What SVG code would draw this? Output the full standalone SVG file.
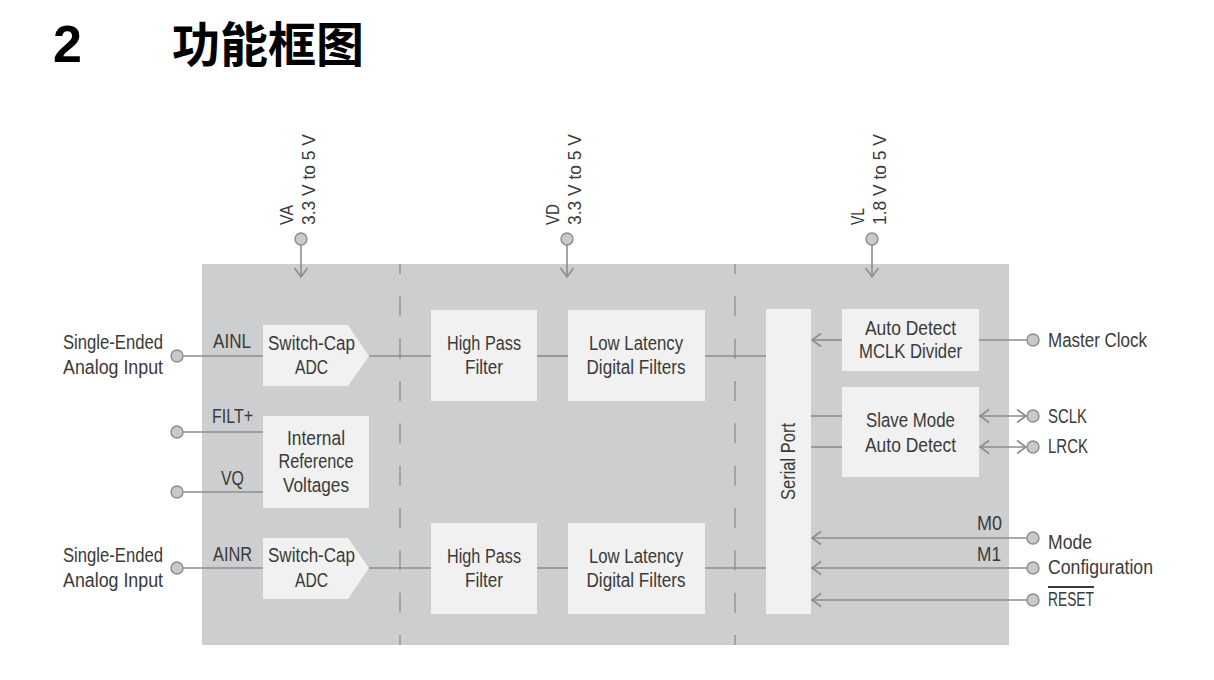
<svg xmlns="http://www.w3.org/2000/svg" width="1214" height="680" viewBox="0 0 1214 680">
<style>
.t{font-family:"Liberation Sans",Arial,sans-serif;font-size:20px;fill:#3a3a3a}
.r{font-size:18.5px}
.m{text-anchor:middle}
.box{fill:#f1f1f1}
.ln{stroke:#8c8c8c;stroke-width:1.6;fill:none}
.pin{fill:#c9c9c9;stroke:#8c8c8c;stroke-width:1.4}
.dash{stroke:#9a9a9a;stroke-width:1.6;stroke-dasharray:20 22.33;stroke-dashoffset:10}
</style>
<defs>
<marker id="ah" markerUnits="userSpaceOnUse" markerWidth="14" markerHeight="16" viewBox="-10 -8 12 16" refX="0" refY="0" orient="auto-start-reverse">
<path d="M-9,-6.5 L0,0 L-9,6.5" fill="none" stroke="#8c8c8c" stroke-width="1.6"/>
</marker>
</defs>
<rect width="1214" height="680" fill="#ffffff"/>
<g id="title">
<text x="53" y="62" style="font-family:'Liberation Sans',Arial,sans-serif;font-size:52px;font-weight:bold;fill:#000">2</text>
<text x="172" y="62" style="font-family:'Noto Sans CJK SC','Noto Sans CJK JP',sans-serif;font-size:48px;font-weight:bold;fill:#000">功能框图</text>
</g>
<g id="chip">
<rect x="202" y="264" width="807" height="381" fill="#cdcecf"/>
<line class="dash" x1="400" y1="264" x2="400" y2="645"/>
<line class="dash" x1="735" y1="264" x2="735" y2="645"/>
</g>
<g id="connectors">
<line class="ln" x1="301" y1="244" x2="301" y2="277" marker-end="url(#ah)"/>
<line class="ln" x1="567" y1="244" x2="567" y2="277" marker-end="url(#ah)"/>
<line class="ln" x1="872" y1="244" x2="872" y2="277" marker-end="url(#ah)"/>
<line class="ln" x1="183" y1="356" x2="263" y2="356"/>
<line class="ln" x1="369" y1="356" x2="431" y2="356"/>
<line class="ln" x1="537" y1="356" x2="568" y2="356"/>
<line class="ln" x1="705" y1="356" x2="766" y2="356"/>
<line class="ln" x1="183" y1="432" x2="263" y2="432"/>
<line class="ln" x1="183" y1="492" x2="263" y2="492"/>
<line class="ln" x1="183" y1="568" x2="263" y2="568"/>
<line class="ln" x1="369" y1="568" x2="431" y2="568"/>
<line class="ln" x1="537" y1="568" x2="568" y2="568"/>
<line class="ln" x1="705" y1="568" x2="766" y2="568"/>
<line class="ln" x1="842" y1="340" x2="812" y2="340" marker-end="url(#ah)"/>
<line class="ln" x1="979" y1="340" x2="1027" y2="340"/>
<line class="ln" x1="811" y1="416" x2="842" y2="416"/>
<line class="ln" x1="811" y1="447" x2="842" y2="447"/>
<line class="ln" x1="980" y1="416" x2="1026" y2="416" marker-start="url(#ah)" marker-end="url(#ah)"/>
<line class="ln" x1="980" y1="447" x2="1026" y2="447" marker-start="url(#ah)" marker-end="url(#ah)"/>
<line class="ln" x1="1027" y1="538" x2="812" y2="538" marker-end="url(#ah)"/>
<line class="ln" x1="1027" y1="568" x2="812" y2="568" marker-end="url(#ah)"/>
<line class="ln" x1="1027" y1="600" x2="812" y2="600" marker-end="url(#ah)"/>
</g>
<g id="pin-va">
<circle class="pin" cx="301" cy="239" r="6"/>
<text class="t r" transform="translate(293,225) rotate(-90)" textLength="20" lengthAdjust="spacingAndGlyphs">VA</text>
<text class="t r" transform="translate(315,225) rotate(-90)" textLength="91" lengthAdjust="spacingAndGlyphs">3.3 V to 5 V</text>
</g>
<g id="pin-vd">
<circle class="pin" cx="567" cy="239" r="6"/>
<text class="t r" transform="translate(559,225) rotate(-90)" textLength="21" lengthAdjust="spacingAndGlyphs">VD</text>
<text class="t r" transform="translate(581,225) rotate(-90)" textLength="91" lengthAdjust="spacingAndGlyphs">3.3 V to 5 V</text>
</g>
<g id="pin-vl">
<circle class="pin" cx="872" cy="239" r="6"/>
<text class="t r" transform="translate(864,225) rotate(-90)" textLength="17" lengthAdjust="spacingAndGlyphs">VL</text>
<text class="t r" transform="translate(886,225) rotate(-90)" textLength="91" lengthAdjust="spacingAndGlyphs">1.8 V to 5 V</text>
</g>
<g id="in-left">
<circle class="pin" cx="177" cy="356" r="6"/>
<text class="t" x="63" y="349" textLength="100" lengthAdjust="spacingAndGlyphs">Single-Ended</text>
<text class="t" x="63" y="374" textLength="100" lengthAdjust="spacingAndGlyphs">Analog Input</text>
<text class="t" x="213" y="348" textLength="38" lengthAdjust="spacingAndGlyphs">AINL</text>
</g>
<g id="in-filt">
<circle class="pin" cx="177" cy="432" r="6"/>
<text class="t" x="212" y="423" textLength="41" lengthAdjust="spacingAndGlyphs">FILT+</text>
</g>
<g id="in-vq">
<circle class="pin" cx="177" cy="492" r="6"/>
<text class="t" x="221" y="485" textLength="23" lengthAdjust="spacingAndGlyphs">VQ</text>
</g>
<g id="in-right">
<circle class="pin" cx="177" cy="568" r="6"/>
<text class="t" x="63" y="562" textLength="100" lengthAdjust="spacingAndGlyphs">Single-Ended</text>
<text class="t" x="63" y="587" textLength="100" lengthAdjust="spacingAndGlyphs">Analog Input</text>
<text class="t" x="213" y="561" textLength="39" lengthAdjust="spacingAndGlyphs">AINR</text>
</g>
<g id="adc-l">
<polygon class="box" points="263,325 348,325 369,356 348,386 263,386"/>
<text class="t m" x="311.5" y="350" textLength="87" lengthAdjust="spacingAndGlyphs">Switch-Cap</text>
<text class="t m" x="311.5" y="374" textLength="33" lengthAdjust="spacingAndGlyphs">ADC</text>
</g>
<g id="vref">
<rect class="box" x="263" y="416" width="106" height="92"/>
<text class="t m" x="316" y="445" textLength="58" lengthAdjust="spacingAndGlyphs">Internal</text>
<text class="t m" x="316" y="468" textLength="75" lengthAdjust="spacingAndGlyphs">Reference</text>
<text class="t m" x="316" y="492" textLength="66" lengthAdjust="spacingAndGlyphs">Voltages</text>
</g>
<g id="adc-r">
<polygon class="box" points="263,538 348,538 369,568 348,599 263,599"/>
<text class="t m" x="311.5" y="562" textLength="87" lengthAdjust="spacingAndGlyphs">Switch-Cap</text>
<text class="t m" x="311.5" y="587" textLength="33" lengthAdjust="spacingAndGlyphs">ADC</text>
</g>
<g id="hpf-l">
<rect class="box" x="431" y="310" width="106" height="91"/>
<text class="t m" x="484" y="350" textLength="74" lengthAdjust="spacingAndGlyphs">High Pass</text>
<text class="t m" x="484" y="374" textLength="38" lengthAdjust="spacingAndGlyphs">Filter</text>
</g>
<g id="lldf-l">
<rect class="box" x="568" y="310" width="137" height="91"/>
<text class="t m" x="636" y="350" textLength="94" lengthAdjust="spacingAndGlyphs">Low Latency</text>
<text class="t m" x="636" y="374" textLength="99" lengthAdjust="spacingAndGlyphs">Digital Filters</text>
</g>
<g id="hpf-r">
<rect class="box" x="431" y="523" width="106" height="91"/>
<text class="t m" x="484" y="563" textLength="74" lengthAdjust="spacingAndGlyphs">High Pass</text>
<text class="t m" x="484" y="587" textLength="38" lengthAdjust="spacingAndGlyphs">Filter</text>
</g>
<g id="lldf-r">
<rect class="box" x="568" y="523" width="137" height="91"/>
<text class="t m" x="636" y="563" textLength="94" lengthAdjust="spacingAndGlyphs">Low Latency</text>
<text class="t m" x="636" y="587" textLength="99" lengthAdjust="spacingAndGlyphs">Digital Filters</text>
</g>
<g id="serial-port">
<rect class="box" x="766" y="309" width="45" height="305"/>
<text class="t m" transform="translate(795,461.5) rotate(-90)" textLength="77" lengthAdjust="spacingAndGlyphs">Serial Port</text>
</g>
<g id="mclk-div">
<rect class="box" x="842" y="309" width="137" height="62"/>
<text class="t m" x="910.5" y="335" textLength="91" lengthAdjust="spacingAndGlyphs">Auto Detect</text>
<text class="t m" x="910.5" y="358" textLength="103" lengthAdjust="spacingAndGlyphs">MCLK Divider</text>
</g>
<g id="slave-detect">
<rect class="box" x="842" y="387" width="137" height="90"/>
<text class="t m" x="910.5" y="427" textLength="89" lengthAdjust="spacingAndGlyphs">Slave Mode</text>
<text class="t m" x="910.5" y="452" textLength="91" lengthAdjust="spacingAndGlyphs">Auto Detect</text>
</g>
<g id="pin-mclk">
<circle class="pin" cx="1033" cy="340" r="6"/>
<text class="t" x="1048" y="347" textLength="99" lengthAdjust="spacingAndGlyphs">Master Clock</text>
</g>
<g id="pin-sclk">
<circle class="pin" cx="1033" cy="416" r="6"/>
<text class="t" x="1048" y="423" textLength="39" lengthAdjust="spacingAndGlyphs">SCLK</text>
</g>
<g id="pin-lrck">
<circle class="pin" cx="1033" cy="447" r="6"/>
<text class="t" x="1048" y="453" textLength="40" lengthAdjust="spacingAndGlyphs">LRCK</text>
</g>
<g id="pin-m0">
<circle class="pin" cx="1033" cy="538" r="6"/>
<text class="t" x="977" y="530" textLength="25" lengthAdjust="spacingAndGlyphs">M0</text>
<text class="t" x="1048" y="549" textLength="44" lengthAdjust="spacingAndGlyphs">Mode</text>
</g>
<g id="pin-m1">
<circle class="pin" cx="1033" cy="568" r="6"/>
<text class="t" x="977" y="561" textLength="24" lengthAdjust="spacingAndGlyphs">M1</text>
<text class="t" x="1048" y="574" textLength="105" lengthAdjust="spacingAndGlyphs">Configuration</text>
</g>
<g id="pin-reset">
<circle class="pin" cx="1033" cy="600" r="6"/>
<text class="t" x="1048" y="606" textLength="46" lengthAdjust="spacingAndGlyphs" text-decoration="overline">RESET</text>
</g>
</svg>
